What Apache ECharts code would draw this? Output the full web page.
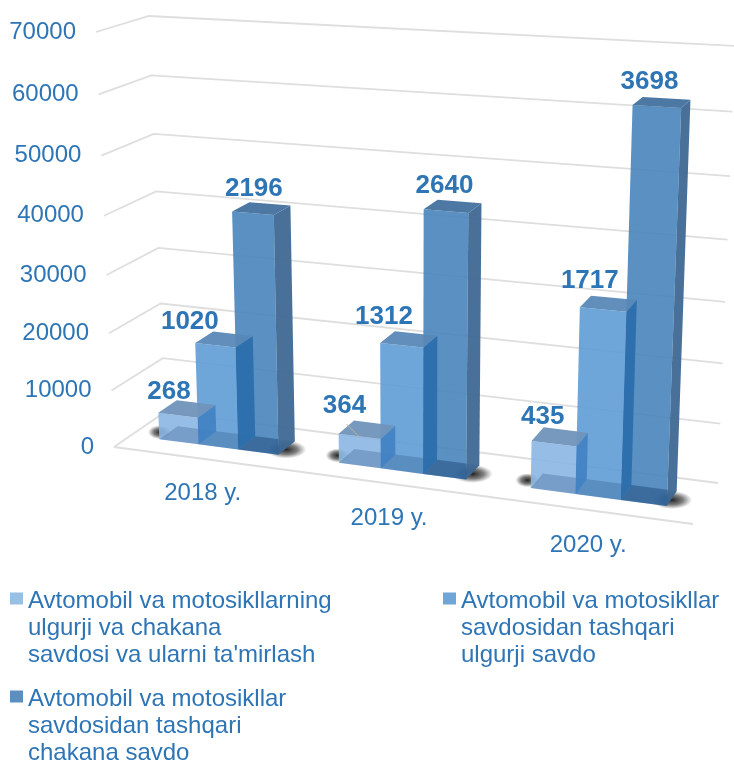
<!DOCTYPE html>
<html><head><meta charset="utf-8">
<style>html,body{margin:0;padding:0;background:#fff}#c{width:734px;height:763px}</style>
<script src="https://cdn.jsdelivr.net/npm/echarts@6/dist/echarts.min.js"></script>
</head><body><div id="c"></div>
<script>
// ---- data ----
const categories = ['2018 y.', '2019 y.', '2020 y.'];
const tickValues = [0, 10000, 20000, 30000, 40000, 50000, 60000, 70000];
const seriesNames = [
  "Avtomobil va motosikllarning\nulgurji va chakana\nsavdosi va ularni ta'mirlash",
  "Avtomobil va motosikllar\nsavdosidan tashqari\nulgurji savdo",
  "Avtomobil va motosikllar\nsavdosidan tashqari\nchakana savdo"
];
// bar heights as read against the value axis
const heightsRepair = [4750, 5050, 7900];
const heightsWholesale = [17900, 21400, 30600];
const heightsRetail = [41000, 44000, 62500];
// printed data labels
const labelsRepair = [268, 364, 435];
const labelsWholesale = [1020, 1312, 1717];
const labelsRetail = [2196, 2640, 3698];

// ---- presentation ----
const TXT = '#2e75b6', FONT = '"Liberation Sans", Arial, sans-serif';
const GRID = {left: 100, right: 34, top: 30, bottom: 316};
const W = 734, H = 763;
const gx = GRID.left, gw = W - GRID.left - GRID.right, gb = H - GRID.bottom, gh = gb - GRID.top;
// corners of the 3D box on the page
const BOX = {
  flb: [114, 447], frb: [693, 524], blb: [165, 412], brb: [718, 483],
  flt: [96, 32], frt: [712, 66], blt: [149, 16], brt: [735, 46]
};
const mix = (a, b, t) => [a[0] + (b[0] - a[0]) * t, a[1] + (b[1] - a[1]) * t];
const warp = (t, s) => t / (t + s * (1 - t));
function project(u, v, w) {
  const U = warp(u, 1.105), V = warp(v, 1.06);
  const bot = mix(mix(BOX.flb, BOX.frb, U), mix(BOX.blb, BOX.brb, U), w);
  const top = mix(mix(BOX.flt, BOX.frt, U), mix(BOX.blt, BOX.brt, U), w);
  return mix(bot, top, V);
}
// axis pixel -> normalized box coordinates
const toU = x => (x - gx) / gw;
const toV = y => (gb - y) / gh;

const BAR_W = 0.0745, W_FRONT = 0.33, W_BACK = 0.70;
const styles = [
  {swatch: '#98c0e4', front: 'rgba(137,182,227,.9)', side: 'rgba(66,130,195,.92)', top: 'rgba(112,148,186,.95)', base: 'rgba(30,70,120,.26)'},
  {swatch: '#6fa6d8', front: 'rgba(95,156,213,.9)', side: 'rgba(42,108,172,.92)', top: 'rgba(88,136,182,.95)', base: 'rgba(30,70,120,.26)'},
  {swatch: '#5a8fc0', front: 'rgba(72,132,187,.9)', side: 'rgba(62,104,146,.95)', top: 'rgba(70,116,160,.97)', base: 'rgba(20,60,110,.42)'}
];
// hand placement of the printed labels relative to the back of each bar top
const labelNudge = [
  [[-27, -11], [-30, -17], [-23, -13]],
  [[-43, -12], [-32, -17], [-24, -17]],
  [[-16, -15], [-15, -16], [-17, -17]]
];
const poly = (pts, fill, z2, extra) => ({type: 'polygon', z2, shape: {points: pts}, style: Object.assign({fill, stroke: null}, extra || {})});

function barSeries(si, values, labels) {
  const st = styles[si];
  return {
    name: seriesNames[si], type: 'custom', coordinateSystem: 'cartesian2d',
    itemStyle: {color: st.swatch}, silent: true, clip: false,
    data: values.map((v, i) => [i, v, labels[i]]),
    encode: {x: 0, y: 1},
    renderItem(params, api) {
      const c = api.coord([api.value(0), api.value(1)]);
      const uc = toU(c[0]), v = toV(c[1]);
      const u0 = uc + (si - 1.5) * BAR_W, u1 = u0 + BAR_W;
      const P = (u, vv, w) => project(u, vv, w);
      const ch = [
        poly([P(u0, 0, W_FRONT), P(u1, 0, W_FRONT), P(u1, v, W_FRONT), P(u0, v, W_FRONT)], st.front, 10 + si),
        poly([P(u0, 0, W_FRONT), P(u1, 0, W_FRONT), P(u1, 0, W_BACK), P(u0, 0, W_BACK)], st.base, 15 + si),
        poly([P(u1, 0, W_FRONT), P(u1, 0, W_BACK), P(u1, v, W_BACK), P(u1, v, W_FRONT)], st.side, 20 + si),
        poly([P(u0, v, W_FRONT), P(u1, v, W_FRONT), P(u1, v, W_BACK), P(u0, v, W_BACK)], st.top, 20 + si)
      ];
      const a = P(u0 + BAR_W / 2, v, W_BACK), n = labelNudge[si][params.dataIndex];
      ch.push({type: 'text', z2: 40, x: a[0] + n[0], y: a[1] + n[1],
        style: {text: String(api.value(2)), fill: TXT, font: 'bold 26px ' + FONT, align: 'center', verticalAlign: 'middle'}});
      if (si === 0 && params.dataIndex === 1) {
        ch.push({type: 'line', z2: 41, shape: {x1: a[0] + n[0] + 2, y1: a[1] + n[1] + 18, x2: a[0] + n[0] + 15, y2: a[1] + n[1] + 31},
          style: {stroke: '#bdb39a', lineWidth: 1}});
      }
      return {type: 'group', children: ch};
    }
  };
}

const wallSeries = {
  name: 'walls', type: 'custom', coordinateSystem: 'cartesian2d', silent: true, clip: false, z: 1,
  data: tickValues.map(t => [0, t]), encode: {x: 0, y: 1},
  renderItem(params, api) {
    const t = api.value(1), v = toV(api.coord([0, t])[1]);
    const L = project(0, v, 0), Cn = project(0, v, 1), R = project(1, v, 1);
    const stroke = {stroke: '#dedede', lineWidth: 1.8, fill: null};
    const ch = [{type: 'polyline', shape: {points: [L, Cn, R]}, style: stroke}];
    if (t === 0) ch.push({type: 'line', shape: {x1: L[0], y1: L[1], x2: project(1, 0, 0)[0], y2: project(1, 0, 0)[1]}, style: stroke});
    ch.push({type: 'text', x: L[0] - 20, y: L[1],
      style: {text: String(t), fill: TXT, font: '24px ' + FONT, align: 'right', verticalAlign: 'middle'}});
    return {type: 'group', children: ch};
  }
};

// soft floor shadow: a unit circle stretched sideways, so the radial fade stays elliptical
const softSpot = (p, rx, ry) => ({
  type: 'circle', z2: 1, x: p[0], y: p[1], scaleX: rx / ry, scaleY: 1,
  shape: {cx: 0, cy: 0, r: ry},
  style: {fill: new echarts.graphic.RadialGradient(0.5, 0.5, 0.5, [
    {offset: 0, color: 'rgba(25,25,25,.95)'}, {offset: 0.55, color: 'rgba(40,40,40,.6)'}, {offset: 1, color: 'rgba(60,60,60,0)'}
  ])}
});

const catSeries = {
  name: 'categories', type: 'custom', coordinateSystem: 'cartesian2d', silent: true, clip: false, z: 1,
  data: categories.map((c, i) => [i, 0]), encode: {x: 0, y: 1},
  renderItem(params, api) {
    const c = api.coord([api.value(0), 0]);
    const uc = toU(c[0]), p = project(uc, 0, 0);
    return {type: 'group', children: [
      softSpot(project(uc - 1.5 * BAR_W - 0.015, 0, 0.5), 12, 7),
      softSpot(project(uc + 1.5 * BAR_W + 0.002, 0, 0.48), 20, 9),
      {type: 'text', x: p[0], y: p[1] + 35, style: {text: categories[params.dataIndex], fill: TXT, font: '24px ' + FONT, align: 'center', verticalAlign: 'middle'}}
    ]};
  }
};

const legendIcon = 'path://M0,0H13V12H0Z M0,72H0.01V72.01H0Z';
const legendAt = (i, left, top) => ({
  show: true, data: [seriesNames[i]], left, top, padding: 0, selectedMode: false, itemGap: 0, orient: 'vertical',
  icon: legendIcon, itemWidth: 13, itemHeight: 72, itemStyle: {color: styles[i].swatch, borderWidth: 0},
  textStyle: {color: TXT, fontFamily: FONT, fontSize: 24, lineHeight: 27, padding: 0}
});

const chart = echarts.init(document.getElementById('c'), null, {renderer: 'canvas'});
chart.setOption({
  animation: false, backgroundColor: '#fff',
  grid: GRID,
  xAxis: {type: 'category', data: categories, show: false},
  yAxis: {type: 'value', min: 0, max: 70000, interval: 10000, show: false},
  legend: [legendAt(0, 10, 588), legendAt(1, 443, 588), legendAt(2, 10, 686)],
  series: [wallSeries, catSeries,
    barSeries(0, heightsRepair, labelsRepair),
    barSeries(1, heightsWholesale, labelsWholesale),
    barSeries(2, heightsRetail, labelsRetail)]
});
</script></body></html>
